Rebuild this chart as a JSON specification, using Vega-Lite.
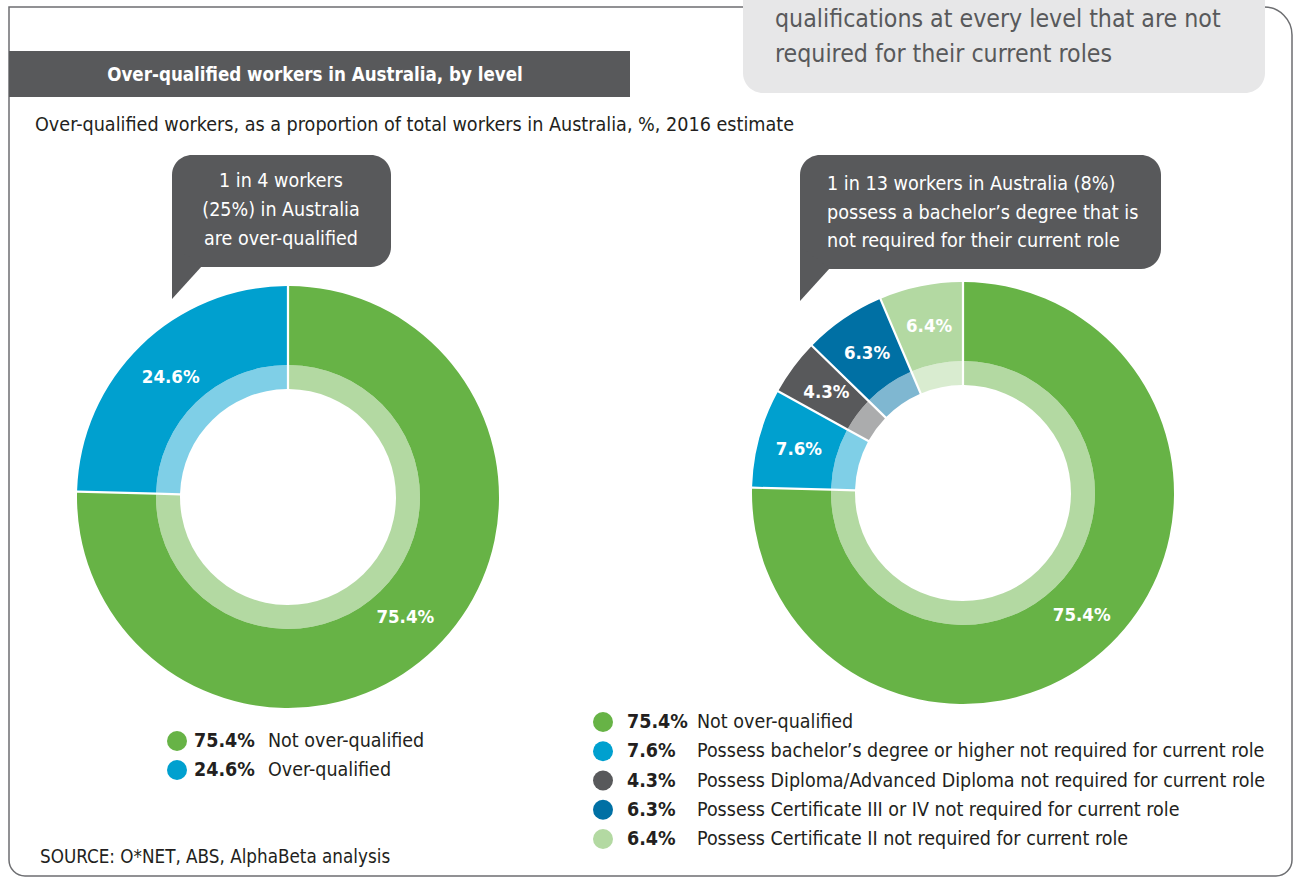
{
  "$schema": "https://vega.github.io/schema/vega-lite/v6.json",
  "width": 1293,
  "height": 880,
  "padding": 0,
  "autosize": {"type": "none"},
  "background": "white",
  "config": {
    "view": {"stroke": null},
    "font": "DejaVu Sans Condensed, Liberation Sans Narrow, Roboto, sans-serif",
    "text": {"lineBreak": "\n", "font": "DejaVu Sans Condensed, Liberation Sans Narrow, Roboto, sans-serif"}
  },
  "datasets": {
    "slices": [
      {"chart": "total", "rank": 1, "category": "Not over-qualified", "value": 0.754},
      {"chart": "total", "rank": 2, "category": "Over-qualified", "value": 0.246},
      {"chart": "level", "rank": 1, "category": "Not over-qualified", "value": 0.754},
      {"chart": "level", "rank": 2, "category": "Possess bachelor’s degree or higher not required for current role", "value": 0.076},
      {"chart": "level", "rank": 3, "category": "Possess Diploma/Advanced Diploma not required for current role", "value": 0.043},
      {"chart": "level", "rank": 4, "category": "Possess Certificate III or IV not required for current role", "value": 0.063},
      {"chart": "level", "rank": 5, "category": "Possess Certificate II not required for current role", "value": 0.064}
    ],
    "notes": [
      {"id": "note", "text": "qualifications at every level that are not\nrequired for their current roles"},
      {"id": "title", "text": "Over-qualified workers in Australia, by level"},
      {"id": "subtitle", "text": "Over-qualified workers, as a proportion of total workers in Australia, %, 2016 estimate"},
      {"id": "callout_total", "text": "1 in 4 workers\n(25%) in Australia\nare over-qualified"},
      {"id": "callout_level", "text": "1 in 13 workers in Australia (8%)\npossess a bachelor’s degree that is\nnot required for their current role"},
      {"id": "source", "text": "SOURCE: O*NET, ABS, AlphaBeta analysis"}
    ]
  },
  "resolve": {"scale": {"y": "independent"}},
  "layer": [
    {
      "layer": [
        {
          "data": {"values": [{"shape": "frame"}]},
          "mark": {"type": "rect", "fillOpacity": 0, "stroke": "#6d6e71", "strokeWidth": 1.5, "cornerRadiusTopRight": 28, "cornerRadiusBottomLeft": 16, "cornerRadiusBottomRight": 16},
          "encoding": {
            "x": {"datum": 9, "type": "quantitative", "scale": {"domain": [0, 1293], "nice": false, "zero": false}, "axis": null},
            "x2": {"datum": 1292},
            "y": {"datum": 7, "type": "quantitative", "scale": {"domain": [0, 880], "reverse": true, "nice": false, "zero": false}, "axis": null},
            "y2": {"datum": 876}
          }
        },
        {
          "data": {"values": [{"shape": "note box"}]},
          "mark": {"type": "rect", "fill": "#e7e7e8", "cornerRadius": 20},
          "encoding": {"x": {"datum": 743}, "x2": {"datum": 1265}, "y": {"datum": -30}, "y2": {"datum": 93}}
        },
        {
          "data": {"name": "notes"},
          "transform": [{"filter": "datum.id === 'note'"}],
          "mark": {"type": "text", "align": "left", "baseline": "middle", "fontSize": 24.7, "lineHeight": 35, "fill": "#58595b"},
          "encoding": {"x": {"datum": 775}, "y": {"datum": 20}, "text": {"field": "text"}}
        },
        {
          "data": {"values": [{"shape": "title bar"}]},
          "mark": {"type": "rect", "fill": "#58595b"},
          "encoding": {"x": {"datum": 9}, "x2": {"datum": 630}, "y": {"datum": 51}, "y2": {"datum": 97}}
        },
        {
          "data": {"name": "notes"},
          "transform": [{"filter": "datum.id === 'title'"}],
          "mark": {"type": "text", "align": "center", "baseline": "middle", "fontSize": 18.6, "fontWeight": "bold", "fill": "white"},
          "encoding": {"x": {"datum": 315}, "y": {"datum": 75}, "text": {"field": "text"}}
        },
        {
          "data": {"name": "notes"},
          "transform": [{"filter": "datum.id === 'subtitle'"}],
          "mark": {"type": "text", "align": "left", "baseline": "middle", "fontSize": 19.6, "fill": "#231f20"},
          "encoding": {"x": {"datum": 35}, "y": {"datum": 125}, "text": {"field": "text"}}
        },
        {
          "data": {"values": [{"shape": "callout total"}]},
          "mark": {"type": "rect", "fill": "#58595b", "cornerRadius": 20},
          "encoding": {"x": {"datum": 172}, "x2": {"datum": 391}, "y": {"datum": 155}, "y2": {"datum": 267}}
        },
        {
          "data": {"values": [{"shape": "callout total pointer"}]},
          "mark": {"type": "point", "shape": "M0,-0.7L1,0L0,1.1Z", "size": 3600, "filled": true, "fill": "#58595b", "opacity": 1, "strokeWidth": 0},
          "encoding": {"x": {"datum": 172}, "y": {"datum": 266}}
        },
        {
          "data": {"values": [{"shape": "callout level"}]},
          "mark": {"type": "rect", "fill": "#58595b", "cornerRadius": 20},
          "encoding": {"x": {"datum": 800}, "x2": {"datum": 1161}, "y": {"datum": 155}, "y2": {"datum": 269}}
        },
        {
          "data": {"values": [{"shape": "callout level pointer"}]},
          "mark": {"type": "point", "shape": "M0,-0.7L1,0L0,1.1Z", "size": 3600, "filled": true, "fill": "#58595b", "opacity": 1, "strokeWidth": 0},
          "encoding": {"x": {"datum": 800}, "y": {"datum": 268}}
        },
        {
          "data": {"name": "notes"},
          "transform": [{"filter": "datum.id === 'callout_total'"}],
          "mark": {"type": "text", "align": "center", "baseline": "middle", "fontSize": 19.5, "lineHeight": 29, "fill": "white"},
          "encoding": {"x": {"datum": 281}, "y": {"datum": 181}, "text": {"field": "text"}}
        },
        {
          "data": {"name": "notes"},
          "transform": [{"filter": "datum.id === 'callout_level'"}],
          "mark": {"type": "text", "align": "left", "baseline": "middle", "fontSize": 19.6, "lineHeight": 28.5, "fill": "white"},
          "encoding": {"x": {"datum": 827}, "y": {"datum": 184}, "text": {"field": "text"}}
        },
        {
          "data": {"name": "notes"},
          "transform": [{"filter": "datum.id === 'source'"}],
          "mark": {"type": "text", "align": "left", "baseline": "middle", "fontSize": 18.7, "fill": "#231f20"},
          "encoding": {"x": {"datum": 40}, "y": {"datum": 857}, "text": {"field": "text"}}
        },
        {
          "data": {"name": "slices"},
          "transform": [{"filter": "datum.chart === 'total'"}],
          "encoding": {
            "x": {"datum": 288},
            "y": {"datum": 497},
            "theta": {"field": "value", "type": "quantitative", "stack": true, "scale": {"domain": [0, 1]}},
            "order": {"field": "rank", "type": "quantitative"},
            "color": {
              "field": "category", "type": "nominal", "legend": null,
              "scale": {
                "domain": ["Not over-qualified", "Over-qualified", "Possess bachelor’s degree or higher not required for current role", "Possess Diploma/Advanced Diploma not required for current role", "Possess Certificate III or IV not required for current role", "Possess Certificate II not required for current role"],
                "range": ["#67b346", "#00a0cf", "#00a0cf", "#58595b", "#0070a4", "#b3d9a2"]
              }
            }
          },
          "layer": [
            {"mark": {"type": "arc", "radius": 211, "radius2": 132, "padAngle": 0.009}},
            {"mark": {"type": "arc", "radius": 132, "radius2": 108, "padAngle": 0.013, "fillOpacity": 0.5}},
            {
              "mark": {"type": "text", "radius": 168, "fontSize": 18.5, "fontWeight": "bold", "fill": "white", "align": "center", "baseline": "middle"},
              "encoding": {"text": {"field": "value", "type": "quantitative", "format": ".1%"}}
            }
          ]
        },
        {
          "data": {"name": "slices"},
          "transform": [{"filter": "datum.chart === 'level'"}],
          "encoding": {
            "x": {"datum": 963},
            "y": {"datum": 493},
            "theta": {"field": "value", "type": "quantitative", "stack": true, "scale": {"domain": [0, 1]}},
            "order": {"field": "rank", "type": "quantitative"},
            "color": {
              "field": "category", "type": "nominal", "legend": null,
              "scale": {
                "domain": ["Not over-qualified", "Over-qualified", "Possess bachelor’s degree or higher not required for current role", "Possess Diploma/Advanced Diploma not required for current role", "Possess Certificate III or IV not required for current role", "Possess Certificate II not required for current role"],
                "range": ["#67b346", "#00a0cf", "#00a0cf", "#58595b", "#0070a4", "#b3d9a2"]
              }
            }
          },
          "layer": [
            {"mark": {"type": "arc", "radius": 211, "radius2": 132, "padAngle": 0.009}},
            {"mark": {"type": "arc", "radius": 132, "radius2": 108, "padAngle": 0.013, "fillOpacity": 0.5}},
            {
              "mark": {"type": "text", "radius": 170, "fontSize": 18.5, "fontWeight": "bold", "fill": "white", "align": "center", "baseline": "middle"},
              "encoding": {"text": {"field": "value", "type": "quantitative", "format": ".1%"}}
            }
          ]
        }
      ]
    },
    {
      "data": {"name": "slices"},
      "transform": [{"filter": "datum.chart === 'total'"}],
      "encoding": {
        "y": {"field": "rank", "type": "ordinal", "scale": {"type": "point", "range": [741, 770], "padding": 0}, "axis": null}
      },
      "layer": [
        {
          "mark": {"type": "point", "shape": "circle", "filled": true, "size": 400, "opacity": 1},
          "encoding": {
            "x": {"datum": 177},
            "color": {
              "field": "category", "type": "nominal", "legend": null,
              "scale": {
                "domain": ["Not over-qualified", "Over-qualified", "Possess bachelor’s degree or higher not required for current role", "Possess Diploma/Advanced Diploma not required for current role", "Possess Certificate III or IV not required for current role", "Possess Certificate II not required for current role"],
                "range": ["#67b346", "#00a0cf", "#00a0cf", "#58595b", "#0070a4", "#b3d9a2"]
              }
            }
          }
        },
        {
          "mark": {"type": "text", "align": "left", "baseline": "middle", "fontSize": 19.5, "fontWeight": "bold", "fill": "#231f20"},
          "encoding": {"x": {"datum": 194}, "text": {"field": "value", "type": "quantitative", "format": ".1%"}}
        },
        {
          "mark": {"type": "text", "align": "left", "baseline": "middle", "fontSize": 19.5, "fill": "#231f20"},
          "encoding": {"x": {"datum": 268}, "text": {"field": "category"}}
        }
      ]
    },
    {
      "data": {"name": "slices"},
      "transform": [{"filter": "datum.chart === 'level'"}],
      "encoding": {
        "y": {"field": "rank", "type": "ordinal", "scale": {"type": "point", "range": [722, 839], "padding": 0}, "axis": null}
      },
      "layer": [
        {
          "mark": {"type": "point", "shape": "circle", "filled": true, "size": 400, "opacity": 1},
          "encoding": {
            "x": {"datum": 603},
            "color": {
              "field": "category", "type": "nominal", "legend": null,
              "scale": {
                "domain": ["Not over-qualified", "Over-qualified", "Possess bachelor’s degree or higher not required for current role", "Possess Diploma/Advanced Diploma not required for current role", "Possess Certificate III or IV not required for current role", "Possess Certificate II not required for current role"],
                "range": ["#67b346", "#00a0cf", "#00a0cf", "#58595b", "#0070a4", "#b3d9a2"]
              }
            }
          }
        },
        {
          "mark": {"type": "text", "align": "left", "baseline": "middle", "fontSize": 19.5, "fontWeight": "bold", "fill": "#231f20"},
          "encoding": {"x": {"datum": 627}, "text": {"field": "value", "type": "quantitative", "format": ".1%"}}
        },
        {
          "mark": {"type": "text", "align": "left", "baseline": "middle", "fontSize": 19.5, "fill": "#231f20"},
          "encoding": {"x": {"datum": 697}, "text": {"field": "category"}}
        }
      ]
    }
  ]
}
